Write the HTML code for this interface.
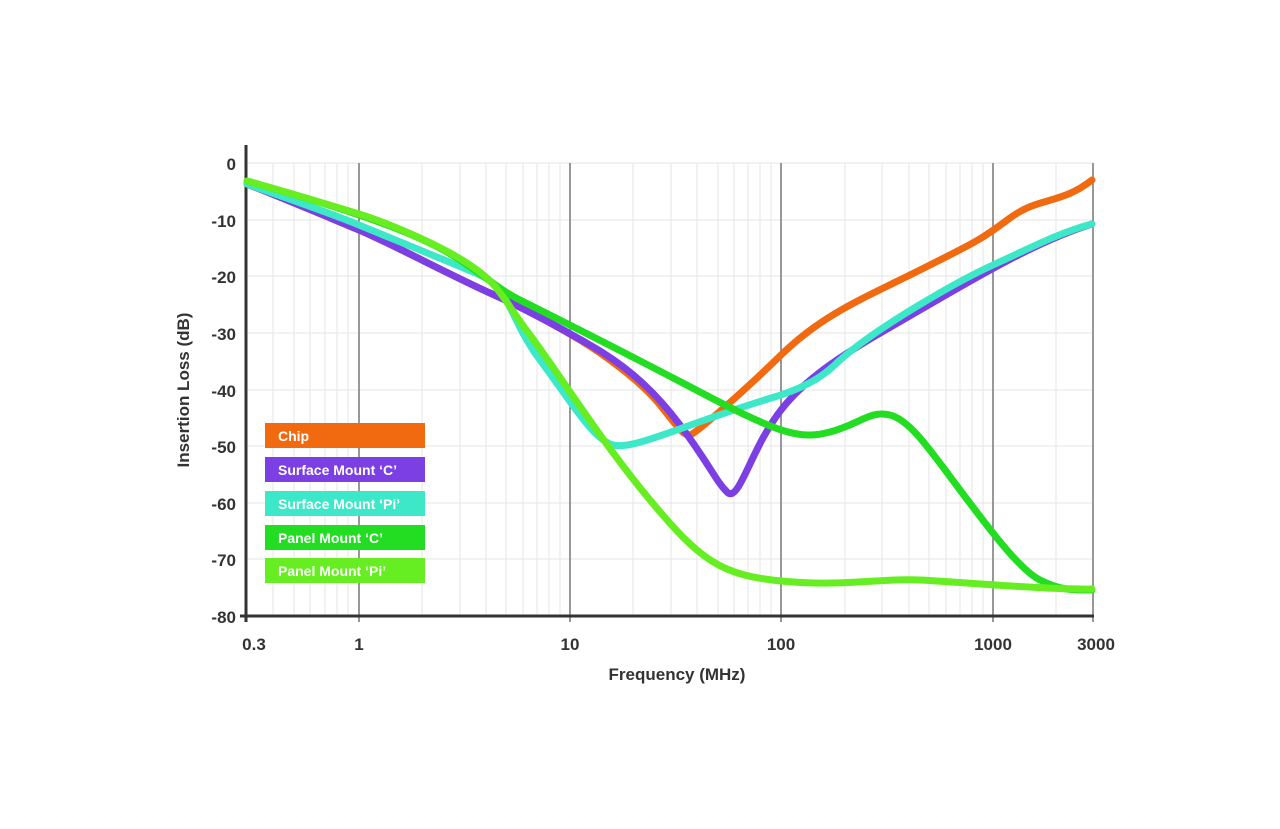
<!DOCTYPE html>
<html><head><style>body{margin:0;background:#fff}svg{display:block}text{font-family:"Liberation Sans",sans-serif;font-weight:bold;fill:#333}</style></head>
<body>
<svg width="1280" height="829" viewBox="0 0 1280 829">
<g stroke="#e6e6e6" stroke-width="1">
<line x1="247" y1="163" x2="1093" y2="163"/><line x1="247" y1="220" x2="1093" y2="220"/><line x1="247" y1="276" x2="1093" y2="276"/><line x1="247" y1="333" x2="1093" y2="333"/><line x1="247" y1="390" x2="1093" y2="390"/><line x1="247" y1="446" x2="1093" y2="446"/><line x1="247" y1="503" x2="1093" y2="503"/><line x1="247" y1="559" x2="1093" y2="559"/>
<line x1="273" y1="163" x2="273" y2="616"/><line x1="294" y1="163" x2="294" y2="616"/><line x1="310" y1="163" x2="310" y2="616"/><line x1="325" y1="163" x2="325" y2="616"/><line x1="337" y1="163" x2="337" y2="616"/><line x1="348" y1="163" x2="348" y2="616"/>
<line x1="422" y1="163" x2="422" y2="616"/><line x1="460" y1="163" x2="460" y2="616"/><line x1="486" y1="163" x2="486" y2="616"/><line x1="506" y1="163" x2="506" y2="616"/><line x1="523" y1="163" x2="523" y2="616"/><line x1="537" y1="163" x2="537" y2="616"/><line x1="549" y1="163" x2="549" y2="616"/><line x1="560" y1="163" x2="560" y2="616"/>
<line x1="633" y1="163" x2="633" y2="616"/><line x1="671" y1="163" x2="671" y2="616"/><line x1="697" y1="163" x2="697" y2="616"/><line x1="718" y1="163" x2="718" y2="616"/><line x1="734" y1="163" x2="734" y2="616"/><line x1="748" y1="163" x2="748" y2="616"/><line x1="760" y1="163" x2="760" y2="616"/><line x1="771" y1="163" x2="771" y2="616"/>
<line x1="845" y1="163" x2="845" y2="616"/><line x1="882" y1="163" x2="882" y2="616"/><line x1="909" y1="163" x2="909" y2="616"/><line x1="929" y1="163" x2="929" y2="616"/><line x1="946" y1="163" x2="946" y2="616"/><line x1="960" y1="163" x2="960" y2="616"/><line x1="972" y1="163" x2="972" y2="616"/><line x1="983" y1="163" x2="983" y2="616"/>
<line x1="1056" y1="163" x2="1056" y2="616"/>
</g>
<g stroke="#777" stroke-width="1.5">
<line x1="359" y1="163" x2="359" y2="622"/><line x1="570" y1="163" x2="570" y2="622"/><line x1="781" y1="163" x2="781" y2="622"/><line x1="993" y1="163" x2="993" y2="622"/><line x1="1093" y1="163" x2="1093" y2="622"/>
</g>
<g stroke="#333" stroke-width="3"><line x1="246" y1="145" x2="246" y2="622"/><line x1="240" y1="616" x2="1094" y2="616"/></g>
<g font-size="17" text-anchor="end">
<text x="236" y="170">0</text><text x="236" y="227">-10</text><text x="236" y="283">-20</text><text x="236" y="340">-30</text><text x="236" y="397">-40</text><text x="236" y="453">-50</text><text x="236" y="510">-60</text><text x="236" y="566">-70</text><text x="236" y="623">-80</text>
</g>
<g font-size="17" text-anchor="middle">
<text x="254" y="650">0.3</text><text x="359" y="650">1</text><text x="570" y="650">10</text><text x="781" y="650">100</text><text x="993" y="650">1000</text><text x="1096" y="650">3000</text>
<text x="677" y="680">Frequency (MHz)</text>
<text transform="translate(189,390) rotate(-90)">Insertion Loss (dB)</text>
</g>
<g fill="none" stroke-width="7" stroke-linejoin="round" stroke-linecap="round">
<path stroke="#f26a10" d="M247,184 C300,205 330,218 359,230 S450,275 490,293 S560,328 580,340 S640,380 660,405 S685,438 692,434 S740,395 781,355 S860,300 920,270 S980,240 1010,218 S1060,205 1092,180"/>
<path stroke="#7b3fe4" d="M247,184 C300,205 330,218 359,230 S450,275 490,293 S560,328 590,345 S650,385 680,425 S715,480 727,492 S750,450 781,410 S860,345 920,310 S1040,240 1092,224"/>
<path stroke="#3de8c8" d="M247,184 C300,203 330,213 359,225 S450,262 480,275 S510,320 540,360 S590,435 610,444 S680,425 781,395 C810,385 825,375 840,360 C880,325 960,280 993,265 S1060,232 1092,224"/>
<path stroke="#22dd22" d="M247,181 C300,196 330,205 359,215 S430,240 460,260 S500,290 520,300 S620,350 700,392 S800,440 830,432 S870,410 890,415 S930,450 960,490 S1020,570 1040,580 S1070,590 1092,590"/>
<path stroke="#66ee22" d="M247,181 C300,196 330,205 359,214 S440,245 470,265 S500,295 530,335 S600,440 650,500 S720,575 781,581 S880,578 920,580 S1050,590 1092,589"/>
</g>
<rect x="265" y="423" width="160" height="25" fill="#f26a10"/>
<rect x="265" y="457" width="160" height="25" fill="#7b3fe4"/>
<rect x="265" y="491" width="160" height="25" fill="#3de8c8"/>
<rect x="265" y="525" width="160" height="25" fill="#22dd22"/>
<rect x="265" y="558" width="160" height="25" fill="#66ee22"/>
<g font-size="14">
<text x="278" y="441" style="fill:#fff">Chip</text>
<text x="278" y="475" style="fill:#fff">Surface Mount ‘C’</text>
<text x="278" y="509" style="fill:#fff">Surface Mount ‘Pi’</text>
<text x="278" y="543" style="fill:#fff">Panel Mount ‘C’</text>
<text x="278" y="576" style="fill:#fff">Panel Mount ‘Pi’</text>
</g>
</svg>
</body></html>
